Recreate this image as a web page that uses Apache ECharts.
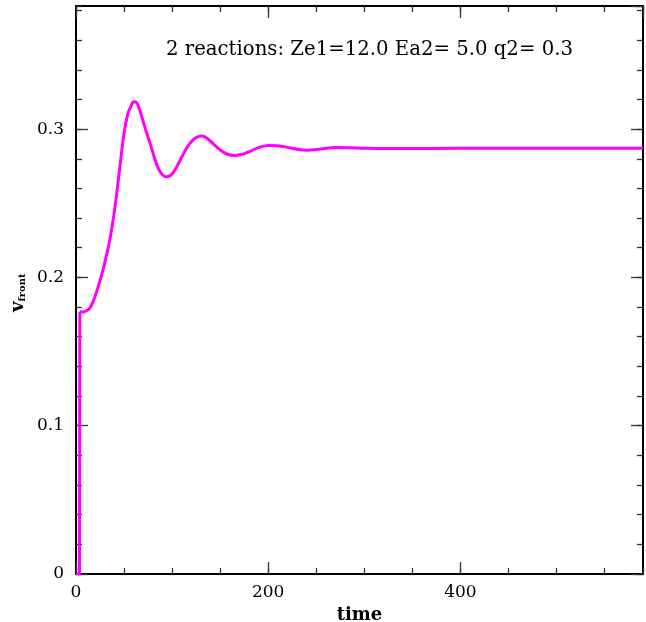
<!DOCTYPE html>
<html>
<head>
<meta charset="utf-8">
<script src="https://cdn.jsdelivr.net/npm/echarts@6/dist/echarts.min.js"></script>
<style>
html,body{margin:0;padding:0;background:#fff;}
#chart{width:646px;height:622px;}
</style>
</head>
<body>
<div id="chart"></div>
<script>
// ---- data ----
var timeValues = [0, 3.6, 4, 7, 10, 14, 18, 22, 26, 30, 34, 38, 42, 46, 50, 54, 57, 60, 63, 66, 70, 74, 78, 82, 86, 90, 94, 98, 102, 106, 110, 115, 120, 125, 131, 137, 143, 150, 157, 165, 173, 181, 190, 200, 210, 222, 232, 240, 255, 270, 285, 300, 330, 400, 500, 590];
var vFront     = [0, 0, 0.1769, 0.1766, 0.1772, 0.1790, 0.1840, 0.1915, 0.2000, 0.2100, 0.2215, 0.2360, 0.2545, 0.2765, 0.2970, 0.3105, 0.3150, 0.3185, 0.3180, 0.3135, 0.3050, 0.2965, 0.2885, 0.2800, 0.2730, 0.2692, 0.2678, 0.2685, 0.2715, 0.2760, 0.2810, 0.2870, 0.2915, 0.2942, 0.2953, 0.2935, 0.2900, 0.2860, 0.2832, 0.2822, 0.2830, 0.2850, 0.2875, 0.2890, 0.2888, 0.2874, 0.2862, 0.2858, 0.2866, 0.2876, 0.2875, 0.2871, 0.2869, 0.2870, 0.2870, 0.2870];
var xMajorTicks = [0, 200, 400];
var yMajorTicks = [0, 0.1, 0.2, 0.3];
var titleText = '2 reactions: Ze1=12.0 Ea2= 5.0 q2= 0.3';
var xName = 'time';

var X_MIN = 0, X_MAX = 590, Y_MIN = 0, Y_MAX = 0.383;
var JUMP_END = 3; // first points form the vertical start-up jump (drawn unsmoothed)

var allData = timeValues.map(function (t, i) { return [t, vFront[i]]; });
var jumpData = allData.slice(0, JUMP_END);
var smoothData = allData.slice(JUMP_END - 1);

var font = 'DejaVu Serif';
var axisLineStyle = { color: '#000', width: 2 };
var tickColor = '#333';

function xAxisDef(pos, interval, tickLen, showLabel, showLine) {
  return {
    type: 'value', position: pos, min: X_MIN, max: X_MAX, interval: interval,
    axisLine: { show: showLine, onZero: false, lineStyle: axisLineStyle },
    axisTick: { show: true, inside: true, length: tickLen, lineStyle: { color: tickColor, width: 1.3 } },
    axisLabel: { show: showLabel, margin: 10, color: '#000', fontFamily: font, fontSize: 17, showMaxLabel: false },
    splitLine: { show: false }
  };
}
function yAxisDef(pos, interval, tickLen, showLabel, showLine) {
  return {
    type: 'value', position: pos, min: Y_MIN, max: Y_MAX, interval: interval,
    axisLine: { show: showLine, onZero: false, lineStyle: axisLineStyle },
    axisTick: { show: true, inside: true, length: tickLen, lineStyle: { color: tickColor, width: 1.3 } },
    axisLabel: { show: showLabel, margin: 12, color: '#000', fontFamily: font, fontSize: 17, showMaxLabel: false,
      formatter: function (v) { return v === 0 ? '0' : (Math.round(v * 10) / 10).toFixed(1); } },
    splitLine: { show: false }
  };
}

var xMain = xAxisDef('bottom', xMajorTicks[1] - xMajorTicks[0], 12, true, true);
xMain.name = xName;
xMain.nameLocation = 'middle';
xMain.nameGap = 31;
xMain.nameTextStyle = { color: '#000', fontFamily: font, fontSize: 18, fontWeight: 'bold' };

var chart = echarts.init(document.getElementById('chart'), null, { renderer: 'canvas' });
chart.setOption({
  backgroundColor: '#fff',
  animation: false,
  title: {
    text: titleText, left: 161, top: 35,
    textStyle: { color: '#000', fontFamily: font, fontSize: 19.7, fontWeight: 'normal' }
  },
  grid: { left: 76, right: 3, top: 6, bottom: 48, containLabel: false, outerBoundsMode: 'none' },
  xAxis: [
    xMain,
    xAxisDef('bottom', 50, 6, false, false),
    xAxisDef('top', 200, 12, false, true),
    xAxisDef('top', 50, 6, false, false)
  ],
  yAxis: [
    yAxisDef('left', yMajorTicks[1] - yMajorTicks[0], 12, true, true),
    yAxisDef('left', 0.02, 6, false, false),
    yAxisDef('right', 0.1, 12, false, true),
    yAxisDef('right', 0.02, 6, false, false)
  ],
  graphic: [{
    type: 'text',
    x: 9, y: 312,
    rotation: Math.PI / 2,
    style: {
      text: '{v|v}{s|front}',
      rich: {
        v: { fontFamily: font, fontSize: 18, fontWeight: 'bold', fill: '#000' },
        s: { fontFamily: font, fontSize: 10, fontWeight: 'bold', fill: '#000', padding: [8, 0, 0, 0] }
      }
    }
  }],
  series: [{
    type: 'line',
    xAxisIndex: 0, yAxisIndex: 0,
    data: jumpData,
    showSymbol: false,
    smooth: false,
    lineStyle: { color: '#ff00ff', width: 3 }
  }, {
    type: 'line',
    xAxisIndex: 0, yAxisIndex: 0,
    data: smoothData,
    showSymbol: false,
    smooth: 0.4,
    lineStyle: { color: '#ff00ff', width: 3 }
  }]
});
</script>
</body>
</html>
